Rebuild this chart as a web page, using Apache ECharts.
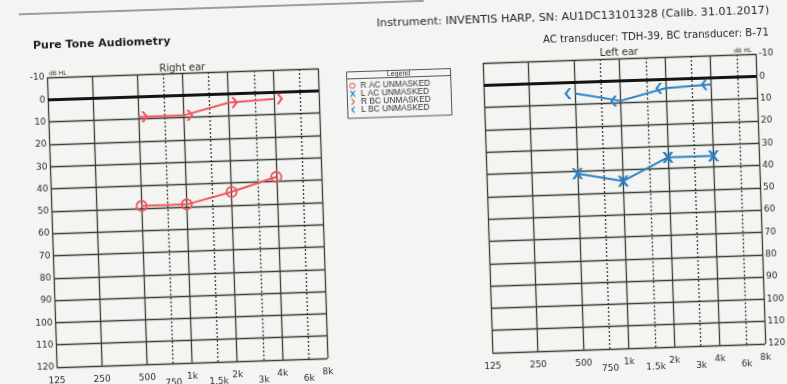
<!DOCTYPE html>
<html>
<head>
<meta charset="utf-8">
<script src="https://cdn.jsdelivr.net/npm/echarts@6/dist/echarts.min.js"></script>
<style>
  html, body { margin: 0; padding: 0; background: #f4f5f3; overflow: hidden; }
  #chart { width: 787px; height: 384px; transform: rotate(-1.9deg); transform-origin: 50% 50%; }
</style>
</head>
<body>
<div id="chart"></div>
<script>
// Test frequencies (Hz) and thresholds (dB HL)
const FREQS = [500, 1000, 2000, 4000];
const R_AC = [49, 49, 44, 38];
const R_BC = [9, 9, 4, 3];
const L_AC = [41, 45, 35, 35];
const L_BC = [5, 9, 4, 3];

// Frequency axis: octave lines (solid) and mid-octave lines (dashed)
const OCTAVE_FREQS = [125, 250, 500, 1000, 2000, 4000, 8000];
const MID_FREQS = [750, 1500, 3000, 6000];
const FREQ_LABELS = ['125', '250', '500', '750', '1k', '1.5k', '2k', '3k', '4k', '6k', '8k'];
const LABEL_FREQS = [125, 250, 500, 750, 1000, 1500, 2000, 3000, 4000, 6000, 8000];

const RED = '#ef5660';
const BLUE = '#2c80c2';
const GRID = '#363d33';
const TEXT = '#2b2d2b';
const FONT = 'DejaVu Sans';

// position on the octave scale, 125 Hz = 0
const oct = f => Math.log2(f / 125);
const pts = vals => FREQS.map((f, i) => [oct(f), vals[i]]);

const SYM_RING = 'path://M10,0A10,10,0,1,1,10,20A10,10,0,1,1,10,0ZM10,3A7,7,0,1,0,10,17A7,7,0,1,0,10,3Z';
const SYM_X = 'path://M0,0H3L6,3.8L9,0H12L7.6,6L12,12H9L6,8.2L3,12H0L4.4,6Z';
const SYM_GT = 'path://M0,0L3,0L8,5.5L3,11L0,11L5,5.5Z';
const SYM_LT = 'path://M8,0L5,0L0,5.5L5,11L8,11L3,5.5Z';

function freqLabel(v) {
  const i = LABEL_FREQS.findIndex(f => Math.abs(oct(f) - v) < 1e-6);
  if (i < 0) return '';
  const isMid = MID_FREQS.indexOf(LABEL_FREQS[i]) >= 0;
  return (isMid ? '{m|' : '{o|') + FREQ_LABELS[i] + '}';
}

function xAxisFor(gridIndex) {
  return {
    type: 'value', gridIndex, min: 0, max: 6, interval: 1,
    axisLine: { show: false }, axisTick: { show: false },
    splitLine: { show: true, lineStyle: { color: GRID, width: 1.3 } },
    axisLabel: {
      customValues: LABEL_FREQS.map(oct),
      formatter: freqLabel, align: 'center', margin: 9,
      rich: {
        o: { fontSize: 9, color: TEXT, fontFamily: FONT },
        m: { fontSize: 9, color: TEXT, fontFamily: FONT, padding: [6, 0, 0, 0] }
      }
    }
  };
}

function yAxisFor(gridIndex, position, margin) {
  return {
    type: 'value', gridIndex, position, inverse: true, min: -10, max: 120, interval: 10,
    axisLine: { show: false }, axisTick: { show: false },
    splitLine: { show: true, lineStyle: { color: GRID, width: 1.3 } },
    axisLabel: { fontSize: 9, color: TEXT, fontFamily: FONT, margin }
  };
}

function gridLines(gridIndex) {
  return {
    type: 'line', name: 'grid' + gridIndex, xAxisIndex: gridIndex, yAxisIndex: gridIndex,
    data: [], silent: true, z: 1,
    markLine: {
      silent: true, symbol: 'none', z: 1, animation: false,
      label: { show: false },
      data: MID_FREQS.map(f => ({ xAxis: oct(f), lineStyle: { type: [2, 2], color: GRID, width: 1.3 } }))
        .concat([{ yAxis: 0, lineStyle: { type: 'solid', color: '#141414', width: 3 } }])
    }
  };
}

function dataSeries(name, gi, vals, color, symbol, size, offset) {
  return {
    type: 'line', name, xAxisIndex: gi, yAxisIndex: gi, data: pts(vals),
    symbol, symbolSize: size, symbolOffset: offset || [0, 0], showAllSymbol: true,
    lineStyle: { color, width: 2 }, itemStyle: { color }, z: 3,
    emphasis: { disabled: true }
  };
}

const chart = echarts.init(document.getElementById('chart'), null, { renderer: 'canvas' });
chart.setOption({
  animation: false,
  backgroundColor: '#f4f5f3',
  grid: [
    { left: 51, top: 66, width: 271, height: 290 },
    { left: 487, top: 66, width: 273, height: 290 }
  ],
  xAxis: [xAxisFor(0), xAxisFor(1)],
  yAxis: [yAxisFor(0, 'left', 2.5), yAxisFor(1, 'right', 3)],
  legend: {
    orient: 'vertical', left: 353, top: 80.5, padding: 0, itemGap: 0,
    itemWidth: 6, itemHeight: 6, selectedMode: false,
    textStyle: { fontSize: 8.4, lineHeight: 7.5, color: '#333', fontFamily: 'Liberation Sans' },
    data: [
      { name: 'R AC UNMASKED', icon: SYM_RING },
      { name: 'L AC UNMASKED', icon: SYM_X },
      { name: 'R BC UNMASKED', icon: SYM_GT },
      { name: 'L BC UNMASKED', icon: SYM_LT }
    ]
  },
  graphic: [
    { type: 'line', shape: { x1: 25, y1: 2, x2: 430, y2: 2 }, style: { stroke: '#444', lineWidth: 1.2 } },
    { type: 'text', x: 38, y: 34.5, style: { text: 'Pure Tone Audiometry', font: 'bold 11px "DejaVu Sans"', fill: '#1e1e1e', textVerticalAlign: 'middle' } },
    { type: 'text', x: 775, y: 23, style: { text: 'Instrument: INVENTIS HARP, SN: AU1DC13101328 (Calib. 31.01.2017)', font: '11.2px "DejaVu Sans"', fill: '#262626', textAlign: 'right', textVerticalAlign: 'middle' } },
    { type: 'text', x: 774, y: 45.5, style: { text: 'AC transducer: TDH-39, BC transducer: B-71', font: '10.2px "DejaVu Sans"', fill: '#262626', textAlign: 'right', textVerticalAlign: 'middle' } },
    { type: 'text', x: 186.5, y: 61.5, style: { text: 'Right ear', font: '10px "DejaVu Sans"', fill: TEXT, textAlign: 'center', textVerticalAlign: 'middle' } },
    { type: 'text', x: 623.5, y: 60, style: { text: 'Left ear', font: '10px "DejaVu Sans"', fill: TEXT, textAlign: 'center', textVerticalAlign: 'middle' } },
    { type: 'text', x: 53, y: 62, style: { text: 'dB HL', font: '6px "DejaVu Sans"', fill: TEXT, textVerticalAlign: 'middle' } },
    { type: 'text', x: 756, y: 62, style: { text: 'dB HL', font: '6px "DejaVu Sans"', fill: TEXT, textAlign: 'right', textVerticalAlign: 'middle' } },
    { type: 'rect', shape: { x: 350.5, y: 70.5, width: 104, height: 46.5 }, style: { fill: 'none', stroke: '#555', lineWidth: 1 } },
    { type: 'line', shape: { x1: 350.5, y1: 77.5, x2: 454.5, y2: 77.5 }, style: { stroke: '#555', lineWidth: 1 } },
    { type: 'text', x: 402.5, y: 74, style: { text: 'Legend', font: '7px "Liberation Sans"', fill: '#333', textAlign: 'center', textVerticalAlign: 'middle' } }
  ],
  series: [
    gridLines(0),
    gridLines(1),
    dataSeries('R AC UNMASKED', 0, R_AC, RED, SYM_RING, 12),
    dataSeries('R BC UNMASKED', 0, R_BC, RED, SYM_GT, [7, 11], [6, 0]),
    dataSeries('L AC UNMASKED', 1, L_AC, BLUE, SYM_X, 11),
    dataSeries('L BC UNMASKED', 1, L_BC, BLUE, SYM_LT, [7, 11], [-7, 0])
  ]
});
</script>
</body>
</html>
